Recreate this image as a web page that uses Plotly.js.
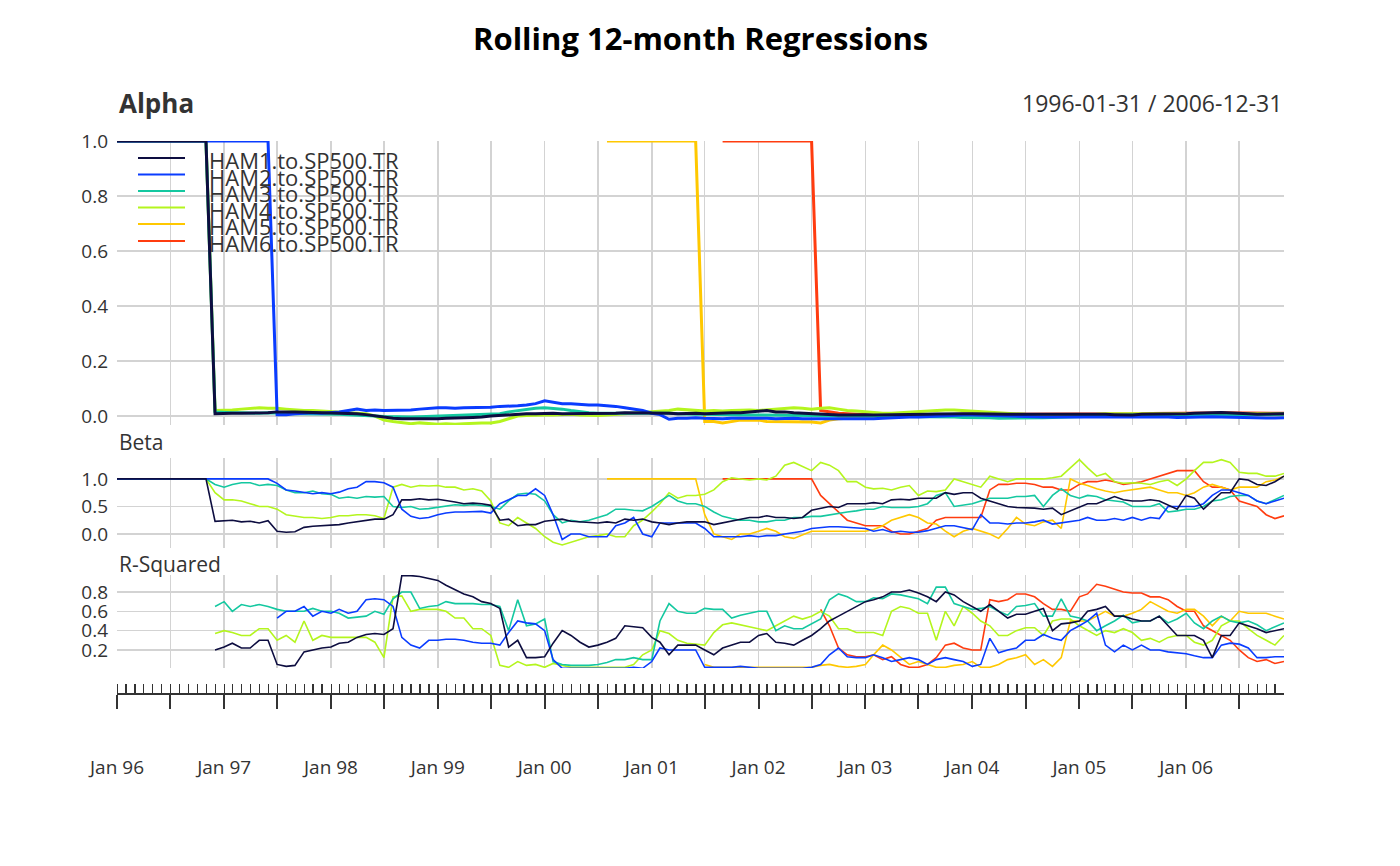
<!DOCTYPE html>
<html><head><meta charset="utf-8">
<script src="https://cdn.plot.ly/plotly-3.0.1.min.js"></script>
<style>body{margin:0;background:#fff}#c{width:1400px;height:866px}</style>
</head><body><div id="c"></div>
<script>
const seriesNames = ["HAM1.to.SP500.TR","HAM2.to.SP500.TR","HAM3.to.SP500.TR","HAM4.to.SP500.TR","HAM5.to.SP500.TR","HAM6.to.SP500.TR"];
const seriesColors = ["#0d0d40","#0a3cff","#14c8a0","#b4f51e","#ffc800","#ff3c0f"];
const _ = null;
const alphaHAM1 = [1,1,1,1,1,1,1,1,1,1,1,0.008,
0.010,0.010,0.010,0.010,0.012,0.012,0.015,0.016,0.015,0.014,0.013,0.012,
0.012,0.012,0.010,0.008,0.005,0.000,-0.005,-0.008,-0.010,-0.010,-0.012,-0.012,
-0.010,-0.008,-0.008,-0.006,-0.005,-0.004,0.000,0.002,0.005,0.006,0.008,0.008,
0.010,0.010,0.008,0.008,0.010,0.010,0.008,0.010,0.010,0.012,0.012,0.012,
0.012,0.012,0.010,0.008,0.010,0.010,0.008,0.010,0.010,0.012,0.012,0.015,
0.018,0.020,0.015,0.015,0.012,0.010,0.008,0.006,0.005,0.004,0.004,0.005,
0.005,0.004,0.004,0.005,0.005,0.006,0.006,0.006,0.007,0.008,0.008,0.008,
0.008,0.007,0.006,0.006,0.006,0.006,0.006,0.006,0.006,0.006,0.006,0.006,
0.006,0.007,0.008,0.006,0.005,0.004,0.004,0.006,0.006,0.008,0.008,0.008,
0.008,0.010,0.012,0.012,0.013,0.012,0.010,0.008,0.006,0.006,0.008,0.008];
const alphaHAM2 = [1,1,1,1,1,1,1,1,1,1,1,1,
1,1,1,1,1,1,0.005,0.005,0.008,0.010,0.012,0.010,
0.012,0.015,0.020,0.025,0.020,0.022,0.020,0.020,0.022,0.022,0.025,0.028,
0.030,0.030,0.028,0.030,0.030,0.030,0.032,0.035,0.035,0.037,0.040,0.045,
0.055,0.050,0.045,0.045,0.042,0.040,0.040,0.038,0.035,0.030,0.025,0.020,
0.010,0.005,-0.012,-0.008,-0.008,-0.006,-0.008,-0.010,-0.010,-0.008,-0.008,-0.006,
-0.006,-0.008,-0.010,-0.008,-0.008,-0.010,-0.010,-0.010,-0.010,-0.012,-0.012,-0.010,
-0.010,-0.010,-0.008,-0.006,-0.005,-0.004,-0.004,-0.002,0.000,0.002,0.003,0.004,
0.004,0.003,0.002,0.000,-0.002,-0.003,-0.003,-0.004,-0.004,-0.004,-0.004,-0.003,
-0.003,-0.002,-0.002,-0.002,-0.002,-0.002,-0.002,-0.002,-0.002,-0.003,-0.004,-0.005,
-0.004,-0.004,-0.004,-0.003,-0.004,-0.005,-0.006,-0.006,-0.006,-0.007,-0.007,-0.006];
const alphaHAM3 = [1,1,1,1,1,1,1,1,1,1,1,0.015,
0.012,0.012,0.012,0.010,0.010,0.012,0.010,0.010,0.008,0.008,0.008,0.008,
0.006,0.006,0.005,0.004,0.002,0.000,-0.002,-0.003,-0.004,-0.004,-0.003,-0.002,
0.000,0.000,0.002,0.002,0.004,0.005,0.006,0.008,0.015,0.020,0.025,0.028,
0.030,0.028,0.025,0.020,0.015,0.012,0.010,0.010,0.010,0.010,0.012,0.012,
0.012,0.012,0.010,0.008,0.006,0.006,0.006,0.005,0.004,0.004,0.004,0.004,
0.004,0.003,0.003,0.002,0.002,0.002,0.002,0.001,0.001,0.001,0.001,0.000,
0.000,0.000,0.000,-0.002,-0.002,-0.003,-0.003,-0.004,-0.004,-0.004,-0.004,-0.005,
-0.005,-0.006,-0.006,-0.008,-0.008,-0.008,-0.008,-0.006,-0.006,-0.005,-0.004,-0.003,
-0.002,0.000,0.002,0.003,0.004,0.004,0.004,0.004,0.004,0.004,0.004,0.004,
0.005,0.005,0.005,0.005,0.005,0.006,0.006,0.006,0.006,0.006,0.006,0.006];
const alphaHAM4 = [1,1,1,1,1,1,1,1,1,1,1,0.020,
0.020,0.022,0.025,0.028,0.030,0.028,0.028,0.025,0.022,0.020,0.020,0.018,
0.015,0.012,0.010,0.010,0.008,0.000,-0.015,-0.020,-0.025,-0.028,-0.025,-0.028,
-0.030,-0.028,-0.030,-0.028,-0.026,-0.025,-0.025,-0.020,-0.010,0.000,0.002,0.004,
0.004,0.004,0.005,0.006,0.004,0.003,0.002,0.004,0.006,0.008,0.010,0.012,
0.015,0.018,0.020,0.025,0.022,0.020,0.018,0.020,0.018,0.020,0.022,0.022,
0.020,0.022,0.025,0.028,0.030,0.028,0.025,0.028,0.030,0.025,0.020,0.018,
0.015,0.012,0.010,0.010,0.012,0.015,0.015,0.018,0.020,0.022,0.022,0.020,
0.018,0.016,0.012,0.010,0.008,0.006,0.006,0.005,0.005,0.005,0.005,0.006,
0.006,0.006,0.006,0.008,0.008,0.008,0.008,0.008,0.008,0.008,0.008,0.008,
0.008,0.008,0.008,0.008,0.008,0.008,0.008,0.008,0.008,0.008,0.008,0.008];
const alphaHAM5 = [_,_,_,_,_,_,_,_,_,_,_,_,
_,_,_,_,_,_,_,_,_,_,_,_,
_,_,_,_,_,_,_,_,_,_,_,_,
_,_,_,_,_,_,_,_,_,_,_,_,
_,_,_,_,_,_,_,1,1,1,1,1,
1,1,1,1,1,1,-0.020,-0.020,-0.025,-0.020,-0.015,-0.015,
-0.015,-0.020,-0.020,-0.022,-0.020,-0.020,-0.022,-0.025,-0.015,-0.010,-0.008,-0.006,
-0.005,-0.004,-0.003,-0.002,0.000,0.000,0.002,0.002,0.003,0.004,0.004,0.004,
0.004,0.004,0.003,0.002,0.002,0.002,0.002,0.002,0.002,0.002,0.002,0.002,
0.003,0.004,0.004,0.004,0.005,0.005,0.004,0.004,0.004,0.005,0.005,0.005,
0.005,0.006,0.006,0.006,0.006,0.006,0.006,0.005,0.005,0.005,0.005,0.005];
const alphaHAM6 = [_,_,_,_,_,_,_,_,_,_,_,_,
_,_,_,_,_,_,_,_,_,_,_,_,
_,_,_,_,_,_,_,_,_,_,_,_,
_,_,_,_,_,_,_,_,_,_,_,_,
_,_,_,_,_,_,_,_,_,_,_,_,
_,_,_,_,_,_,_,_,1,1,1,1,
1,1,1,1,1,1,1,0.020,0.015,0.010,0.008,0.006,
0.005,0.004,0.004,0.003,0.003,0.003,0.003,0.004,0.004,0.005,0.006,0.006,
0.006,0.006,0.006,0.006,0.006,0.007,0.007,0.007,0.007,0.008,0.008,0.008,
0.008,0.008,0.008,0.008,0.008,0.008,0.008,0.008,0.009,0.009,0.010,0.010,
0.010,0.010,0.011,0.011,0.012,0.012,0.011,0.010,0.010,0.010,0.010,0.010];

const betaHAM1 = [1,1,1,1,1,1,1,1,1,1,1,0.23,
0.24,0.25,0.22,0.23,0.20,0.24,0.05,0.03,0.04,0.12,0.14,0.15,
0.15,0.17,0.20,0.22,0.25,0.27,0.27,0.35,0.62,0.62,0.64,0.62,
0.63,0.60,0.58,0.55,0.56,0.55,0.52,0.25,0.27,0.15,0.17,0.17,
0.23,0.25,0.27,0.23,0.22,0.20,0.20,0.22,0.20,0.27,0.25,0.27,
0.22,0.20,0.17,0.20,0.22,0.22,0.22,0.17,0.20,0.24,0.27,0.30,
0.30,0.33,0.30,0.30,0.28,0.30,0.43,0.47,0.50,0.48,0.55,0.55,
0.55,0.57,0.55,0.62,0.63,0.62,0.65,0.65,0.65,0.75,0.72,0.75,
0.75,0.65,0.60,0.55,0.50,0.48,0.48,0.47,0.45,0.47,0.35,0.42,
0.50,0.55,0.55,0.62,0.68,0.62,0.60,0.60,0.62,0.60,0.52,0.45,
0.70,0.65,0.45,0.60,0.75,0.75,1.00,0.98,0.90,0.88,0.95,1.05];
const betaHAM2 = [1,1,1,1,1,1,1,1,1,1,1,1,
1,1,1,1,1,1,0.92,0.80,0.78,0.76,0.73,0.75,
0.73,0.76,0.82,0.85,0.95,0.95,0.93,0.85,0.45,0.32,0.28,0.30,
0.35,0.38,0.40,0.40,0.40,0.41,0.38,0.55,0.62,0.70,0.70,0.82,
0.70,0.35,-0.10,0.00,0.00,-0.05,-0.05,-0.05,0.15,0.20,0.30,0.00,
-0.05,0.20,0.20,0.20,0.20,0.20,0.10,-0.05,-0.05,-0.05,-0.05,-0.03,
-0.05,-0.03,-0.03,0.00,0.02,0.05,0.10,0.12,0.13,0.13,0.12,0.12,
0.10,0.05,0.08,0.03,0.05,0.03,0.03,0.06,0.10,0.15,0.15,0.12,
0.08,0.35,0.20,0.20,0.18,0.20,0.20,0.22,0.25,0.18,0.20,0.22,
0.25,0.30,0.25,0.25,0.28,0.25,0.30,0.25,0.30,0.28,0.50,0.50,
0.50,0.50,0.55,0.70,0.80,0.80,0.75,0.70,0.60,0.55,0.60,0.65];
const betaHAM3 = [1,1,1,1,1,1,1,1,1,1,1,0.90,
0.85,0.90,0.93,0.93,0.88,0.90,0.88,0.80,0.75,0.75,0.78,0.73,
0.72,0.65,0.67,0.65,0.68,0.67,0.68,0.50,0.48,0.50,0.45,0.46,
0.48,0.50,0.53,0.52,0.53,0.52,0.50,0.45,0.60,0.72,0.74,0.72,
0.60,0.35,0.20,0.25,0.22,0.25,0.30,0.35,0.45,0.45,0.43,0.42,
0.50,0.60,0.70,0.60,0.55,0.55,0.50,0.40,0.32,0.28,0.25,0.25,
0.22,0.22,0.25,0.25,0.30,0.30,0.32,0.32,0.35,0.38,0.40,0.42,
0.45,0.45,0.50,0.48,0.48,0.48,0.50,0.55,0.70,0.75,0.50,0.53,
0.55,0.60,0.65,0.65,0.65,0.68,0.68,0.70,0.50,0.70,0.82,0.70,
0.65,0.70,0.68,0.62,0.60,0.58,0.50,0.50,0.50,0.55,0.40,0.42,
0.45,0.45,0.50,0.60,0.62,0.68,0.70,0.70,0.60,0.55,0.62,0.70];
const betaHAM4 = [1,1,1,1,1,1,1,1,1,1,1,0.75,
0.62,0.62,0.60,0.55,0.50,0.50,0.45,0.35,0.33,0.30,0.30,0.28,
0.30,0.33,0.33,0.35,0.35,0.33,0.28,0.85,0.90,0.85,0.88,0.87,
0.88,0.85,0.85,0.80,0.82,0.78,0.60,0.20,0.15,0.30,0.20,0.10,
-0.05,-0.15,-0.20,-0.15,-0.10,-0.05,-0.03,0.00,-0.05,-0.05,0.15,0.25,
0.40,0.55,0.75,0.65,0.70,0.70,0.72,0.80,0.95,1.02,1.00,0.98,
1.00,0.98,1.05,1.25,1.30,1.22,1.15,1.30,1.25,1.15,0.95,0.95,
0.85,0.82,0.83,0.80,0.85,0.88,0.70,0.78,0.77,0.80,1.00,0.95,
0.90,0.85,1.05,1.00,0.95,1.00,1.00,1.00,1.00,1.02,1.05,1.20,
1.35,1.20,1.05,1.10,0.95,0.92,0.93,0.92,0.90,0.95,0.98,0.88,
1.00,1.15,1.30,1.30,1.35,1.30,1.12,1.10,1.10,1.05,1.05,1.10];
const betaHAM5 = [_,_,_,_,_,_,_,_,_,_,_,_,
_,_,_,_,_,_,_,_,_,_,_,_,
_,_,_,_,_,_,_,_,_,_,_,_,
_,_,_,_,_,_,_,_,_,_,_,_,
_,_,_,_,_,_,_,1,1,1,1,1,
1,1,1,1,1,1,0.35,0.00,-0.05,-0.10,0.00,0.00,
0.05,0.10,0.05,-0.05,-0.08,-0.02,0.05,0.05,0.05,0.05,0.05,0.05,
0.05,0.08,0.15,0.25,0.30,0.35,0.30,0.20,0.18,0.05,-0.05,0.05,
0.10,0.05,0.00,-0.08,0.10,0.30,0.18,0.15,0.22,0.25,0.10,1.00,
0.92,0.88,0.82,0.78,0.75,0.78,0.80,0.82,0.85,0.80,0.75,0.75,
0.70,0.75,0.85,0.90,0.85,0.80,0.85,0.85,0.85,0.95,0.98,1.05];
const betaHAM6 = [_,_,_,_,_,_,_,_,_,_,_,_,
_,_,_,_,_,_,_,_,_,_,_,_,
_,_,_,_,_,_,_,_,_,_,_,_,
_,_,_,_,_,_,_,_,_,_,_,_,
_,_,_,_,_,_,_,_,_,_,_,_,
_,_,_,_,_,_,_,_,1,1,1,1,
1,1,1,1,1,1,1,0.70,0.55,0.40,0.25,0.20,
0.15,0.15,0.15,0.05,0.00,0.00,0.05,0.10,0.25,0.30,0.30,0.30,
0.30,0.30,0.80,0.90,0.90,0.92,0.92,0.90,0.85,0.85,0.80,0.80,
0.90,0.95,0.95,0.98,0.95,0.90,0.92,0.95,1.00,1.05,1.10,1.15,
1.15,1.15,0.95,0.85,0.85,0.80,0.60,0.55,0.50,0.35,0.28,0.33];

const rsqHAM1 = [_,_,_,_,_,_,_,_,_,_,_,0.20,
0.23,0.27,0.22,0.22,0.30,0.30,0.05,0.03,0.04,0.18,0.20,0.22,
0.23,0.27,0.28,0.33,0.36,0.37,0.36,0.42,0.97,0.97,0.96,0.94,
0.92,0.87,0.82,0.78,0.75,0.70,0.68,0.63,0.23,0.30,0.12,0.12,
0.13,0.27,0.40,0.35,0.28,0.23,0.25,0.28,0.32,0.45,0.44,0.43,
0.33,0.28,0.15,0.25,0.25,0.25,0.20,0.15,0.22,0.25,0.28,0.28,
0.35,0.37,0.28,0.27,0.25,0.30,0.35,0.42,0.50,0.55,0.60,0.65,
0.70,0.72,0.75,0.80,0.80,0.82,0.79,0.75,0.70,0.80,0.77,0.70,
0.65,0.60,0.67,0.60,0.53,0.57,0.57,0.60,0.63,0.40,0.47,0.48,
0.50,0.60,0.62,0.65,0.55,0.55,0.52,0.50,0.50,0.55,0.45,0.35,
0.35,0.35,0.30,0.12,0.35,0.35,0.48,0.45,0.42,0.38,0.40,0.42];
const rsqHAM2 = [_,_,_,_,_,_,_,_,_,_,_,_,
_,_,_,_,_,_,0.53,0.60,0.60,0.65,0.55,0.60,
0.58,0.62,0.58,0.60,0.72,0.73,0.72,0.65,0.33,0.25,0.22,0.30,
0.30,0.31,0.31,0.30,0.28,0.27,0.27,0.25,0.38,0.50,0.48,0.47,
0.40,0.10,0.01,0.01,0.01,0.01,0.01,0.01,0.01,0.01,0.02,0.01,
0.08,0.22,0.20,0.20,0.20,0.20,0.02,0.02,0.02,0.02,0.03,0.02,
0.01,0.01,0.01,0.01,0.01,0.01,0.02,0.05,0.15,0.22,0.13,0.12,
0.12,0.15,0.12,0.08,0.10,0.12,0.10,0.05,0.10,0.12,0.10,0.08,
0.03,0.05,0.32,0.17,0.20,0.22,0.30,0.30,0.36,0.32,0.30,0.40,
0.45,0.50,0.58,0.25,0.18,0.25,0.20,0.25,0.20,0.20,0.18,0.17,
0.16,0.14,0.12,0.12,0.25,0.27,0.26,0.22,0.12,0.12,0.13,0.13];
const rsqHAM3 = [_,_,_,_,_,_,_,_,_,_,_,0.65,
0.70,0.60,0.67,0.65,0.67,0.65,0.62,0.60,0.60,0.60,0.63,0.60,
0.60,0.58,0.53,0.54,0.55,0.60,0.57,0.73,0.80,0.80,0.63,0.65,
0.66,0.70,0.68,0.68,0.68,0.67,0.67,0.65,0.40,0.72,0.45,0.47,
0.52,0.08,0.05,0.04,0.04,0.04,0.05,0.07,0.10,0.10,0.12,0.10,
0.10,0.50,0.68,0.60,0.58,0.58,0.63,0.62,0.62,0.53,0.56,0.58,
0.60,0.60,0.40,0.45,0.42,0.42,0.47,0.52,0.72,0.78,0.75,0.70,
0.70,0.74,0.73,0.78,0.77,0.75,0.73,0.68,0.85,0.85,0.68,0.65,
0.62,0.63,0.65,0.60,0.56,0.65,0.66,0.68,0.55,0.55,0.73,0.55,
0.53,0.50,0.40,0.45,0.50,0.56,0.48,0.50,0.50,0.55,0.48,0.52,
0.58,0.48,0.42,0.50,0.55,0.50,0.48,0.50,0.46,0.40,0.44,0.48];
const rsqHAM4 = [_,_,_,_,_,_,_,_,_,_,_,0.37,
0.40,0.38,0.35,0.35,0.42,0.42,0.30,0.35,0.28,0.50,0.30,0.35,
0.33,0.33,0.33,0.33,0.33,0.28,0.12,0.75,0.76,0.60,0.62,0.62,
0.62,0.60,0.53,0.53,0.42,0.42,0.35,0.04,0.02,0.08,0.04,0.05,
0.02,0.06,0.04,0.02,0.02,0.02,0.02,0.02,0.02,0.02,0.05,0.15,
0.20,0.40,0.37,0.30,0.27,0.26,0.25,0.38,0.46,0.48,0.46,0.44,
0.42,0.40,0.45,0.50,0.55,0.52,0.55,0.60,0.55,0.42,0.42,0.38,
0.38,0.38,0.35,0.60,0.65,0.63,0.58,0.58,0.30,0.60,0.45,0.65,
0.58,0.50,0.45,0.35,0.35,0.40,0.43,0.43,0.35,0.50,0.52,0.52,
0.45,0.40,0.35,0.40,0.38,0.42,0.38,0.30,0.32,0.28,0.33,0.35,
0.35,0.28,0.25,0.30,0.45,0.50,0.50,0.42,0.35,0.30,0.25,0.35];
const rsqHAM5 = [_,_,_,_,_,_,_,_,_,_,_,_,
_,_,_,_,_,_,_,_,_,_,_,_,
_,_,_,_,_,_,_,_,_,_,_,_,
_,_,_,_,_,_,_,_,_,_,_,_,
_,_,_,_,_,_,_,_,_,_,_,_,
_,_,_,_,_,_,0.05,0.02,0.02,0.02,0.02,0.02,
0.02,0.02,0.02,0.02,0.02,0.02,0.02,0.04,0.05,0.03,0.02,0.03,
0.05,0.15,0.25,0.20,0.12,0.05,0.08,0.05,0.02,0.02,0.04,0.05,
0.08,0.02,0.02,0.05,0.10,0.12,0.15,0.05,0.10,0.03,0.12,0.50,
0.50,0.50,0.55,0.60,0.55,0.55,0.58,0.62,0.70,0.65,0.60,0.58,
0.62,0.62,0.55,0.45,0.55,0.50,0.60,0.58,0.58,0.58,0.55,0.52];
const rsqHAM6 = [_,_,_,_,_,_,_,_,_,_,_,_,
_,_,_,_,_,_,_,_,_,_,_,_,
_,_,_,_,_,_,_,_,_,_,_,_,
_,_,_,_,_,_,_,_,_,_,_,_,
_,_,_,_,_,_,_,_,_,_,_,_,
_,_,_,_,_,_,_,_,_,_,_,_,
_,_,_,_,_,_,_,0.62,0.45,0.22,0.15,0.13,
0.13,0.15,0.10,0.13,0.05,0.02,0.02,0.05,0.12,0.25,0.27,0.22,
0.20,0.20,0.72,0.70,0.72,0.78,0.78,0.75,0.68,0.62,0.62,0.60,
0.75,0.78,0.88,0.86,0.83,0.80,0.79,0.79,0.75,0.75,0.72,0.65,
0.60,0.60,0.45,0.40,0.35,0.30,0.20,0.12,0.08,0.10,0.06,0.08];

const xTickLabels = ["Jan 96","Jan 97","Jan 98","Jan 99","Jan 00","Jan 01","Jan 02","Jan 03","Jan 04","Jan 05","Jan 06"];

// month-end dates
const dates = [];
for (let y = 1996; y <= 2006; y++) for (let m = 0; m < 12; m++) {
  dates.push(new Date(Date.UTC(y, m + 1, 0)).toISOString().slice(0, 10));
}
const halfYear = dates.filter((d, i) => i % 6 === 0);
const halfText = halfYear.map((d, i) => i % 2 === 0 ? xTickLabels[i / 2] : "");

const alphaAll = [alphaHAM1, alphaHAM2, alphaHAM3, alphaHAM4, alphaHAM5, alphaHAM6];
const betaAll = [betaHAM1, betaHAM2, betaHAM3, betaHAM4, betaHAM5, betaHAM6];
const rsqAll = [rsqHAM1, rsqHAM2, rsqHAM3, rsqHAM4, rsqHAM5, rsqHAM6];

const traces = [];
[[alphaAll, "x", "y", 3], [betaAll, "x2", "y2", 1.6], [rsqAll, "x3", "y3", 1.6]].forEach(([arr, xa, ya, w]) => {
  for (let i = arr.length - 1; i >= 0; i--) traces.push({
    x: dates, y: arr[i], xaxis: xa, yaxis: ya, type: "scatter", mode: "lines",
    line: { color: seriesColors[i], width: w }, showlegend: false, hoverinfo: "skip"
  });
});
traces.push({ x: [dates[0], dates[131]], y: [0, 0], xaxis: "x4", yaxis: "y4", mode: "none", showlegend: false, hoverinfo: "skip" });

const H = 866, L = 117, W = 1167;
const py = p => 1 - p / H, px = p => (p - L) / W;
const range = [dates[0], dates[131]];
const tickF = { family: "Open Sans", size: 19, color: "#333" };
const xPanel = anchor => ({
  anchor, range, tickvals: halfYear, showticklabels: false, ticks: "",
  showgrid: true, gridcolor: "#d3d3d3", gridwidth: 1.5, zeroline: false, showline: false
});
const yPanel = (dom, rng, vals, fmt) => ({
  domain: [py(dom[1]), py(dom[0])], range: rng, tickvals: vals, tickformat: fmt,
  showgrid: true, gridcolor: "#d3d3d3", gridwidth: 1.5, zeroline: false, showline: false,
  tickfont: tickF, ticks: "", ticklabelstandoff: 8
});

const layout = {
  width: 1400, height: 866, margin: { l: L, r: 1400 - L - W, t: 0, b: 0 },
  paper_bgcolor: "#fff", plot_bgcolor: "#fff", showlegend: false,
  font: { family: "Open Sans", color: "#333" },
  xaxis: xPanel("y"), xaxis2: xPanel("y2"), xaxis3: xPanel("y3"),
  yaxis: yPanel([141, 425], [-0.0327, 1.0], [0, 0.2, 0.4, 0.6, 0.8, 1.0], ".1f"),
  yaxis2: yPanel([458, 548], [-0.255, 1.38], [0, 0.5, 1.0], ".1f"),
  yaxis3: yPanel([575, 668], [0.013, 0.976], [0.2, 0.4, 0.6, 0.8], ".1f"),
  yaxis4: { domain: [py(693), py(680)], visible: false, range: [0, 1] },
  xaxis4: {
    anchor: "y4", range, tickvals: halfYear, ticktext: halfText,
    showline: true, linecolor: "#333", linewidth: 2, ticks: "outside", ticklen: 14, tickwidth: 2, tickcolor: "#333",
    minor: { dtick: "M1", ticks: "inside", ticklen: 9, tickwidth: 1.5, tickcolor: "#333", showgrid: false },
    showgrid: false, zeroline: false, tickfont: tickF, ticklabelstandoff: 42
  },
  annotations: [
    { text: "<b>Rolling 12-month Regressions</b>", xref: "paper", yref: "paper", x: 0.5, y: py(38), xanchor: "center", yanchor: "middle", showarrow: false, font: { family: "Open Sans", size: 31, color: "#000" } },
    { text: "<b>Alpha</b>", xref: "paper", yref: "paper", x: 0, y: py(103), xanchor: "left", yanchor: "middle", showarrow: false, font: { family: "Open Sans", size: 26, color: "#333" } },
    { text: "1996-01-31 / 2006-12-31", xref: "paper", yref: "paper", x: 1, y: py(103), xanchor: "right", yanchor: "middle", showarrow: false, font: { family: "Open Sans", size: 23, color: "#333" } },
    { text: "Beta", xref: "paper", yref: "paper", x: 0, y: py(442), xanchor: "left", yanchor: "middle", showarrow: false, font: { family: "Open Sans", size: 21, color: "#333" } },
    { text: "R-Squared", xref: "paper", yref: "paper", x: 0, y: py(564), xanchor: "left", yanchor: "middle", showarrow: false, font: { family: "Open Sans", size: 21, color: "#333" } }
  ],
  shapes: []
};
const legendRows = [158, 174.5, 191, 207.5, 224, 241];
seriesNames.forEach((n, i) => {
  layout.annotations.push({ text: n, xref: "paper", yref: "paper", x: px(207), y: py(legendRows[i] + 2), xanchor: "left", yanchor: "middle", showarrow: false, font: { family: "Open Sans", size: 22, color: "#333" } });
  layout.shapes.push({ type: "line", xref: "paper", yref: "paper", x0: px(138), x1: px(185), y0: py(legendRows[i]), y1: py(legendRows[i]), line: { color: seriesColors[i], width: 2 } });
});

Plotly.newPlot("c", traces, layout, { displayModeBar: false, staticPlot: true });
</script></body></html>
